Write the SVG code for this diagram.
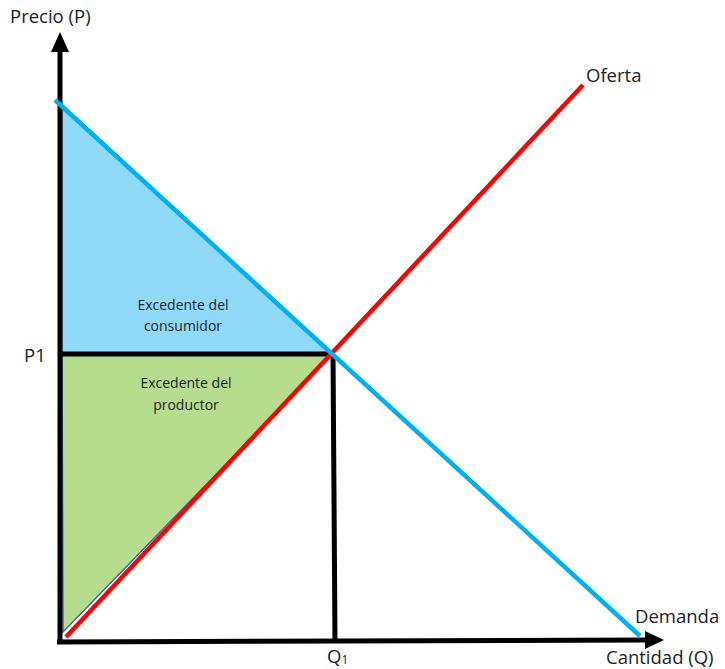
<svg xmlns="http://www.w3.org/2000/svg" width="725" height="669" viewBox="0 0 725 669">
<style>
text{font-family:"Open Sans","Liberation Sans",sans-serif;fill:#222}
.lbl{font-size:18.5px}
.area{font-size:14px;text-anchor:middle}
.axis{stroke:#000;stroke-width:5;fill:none}
</style>
<rect width="725" height="669" fill="#fff"/>
<g id="consumer-surplus">
<polygon points="62,104 62,354 333,354" fill="#8FDAF8" stroke="#3A66B0" stroke-width="1"/>
<text class="area" x="183" y="310">Excedente del</text>
<text class="area" x="183" y="331">consumidor</text>
</g>
<g id="producer-surplus">
<polygon points="62,354 333,354 63,632" fill="#B6DD8E" stroke="#3A66B0" stroke-width="1.5"/>
<text class="area" x="186" y="388">Excedente del</text>
<text class="area" x="186" y="410">productor</text>
</g>
<g id="connectors">
<line x1="333" y1="354" x2="335" y2="640" stroke="#000" stroke-width="5"/>
<line x1="62" y1="354" x2="333" y2="354" stroke="#000" stroke-width="5"/>
<line x1="60" y1="643" x2="60" y2="50" class="axis"/>
<polygon points="51,52 60,32 69,52" fill="#000"/>
<line x1="57" y1="642" x2="646" y2="640" class="axis"/>
<polygon points="645,631 664,640 645,649" fill="#000"/>
<line x1="66" y1="637" x2="583" y2="85" stroke="#FF0000" stroke-width="4.5"/>
<line x1="55" y1="100" x2="640" y2="636" stroke="#00B0F0" stroke-width="4.5"/>
</g>
<g id="labels">
<text class="lbl" x="10" y="23">Precio (P)</text>
<text class="lbl" x="24" y="362">P1</text>
<text class="lbl" x="586" y="82">Oferta</text>
<text class="lbl" x="635" y="623">Demanda</text>
<text class="lbl" x="606" y="664">Cantidad (Q)</text>
<text class="lbl" x="327" y="663">Q<tspan font-size="12" dy="1">1</tspan></text>
</g>
</svg>
